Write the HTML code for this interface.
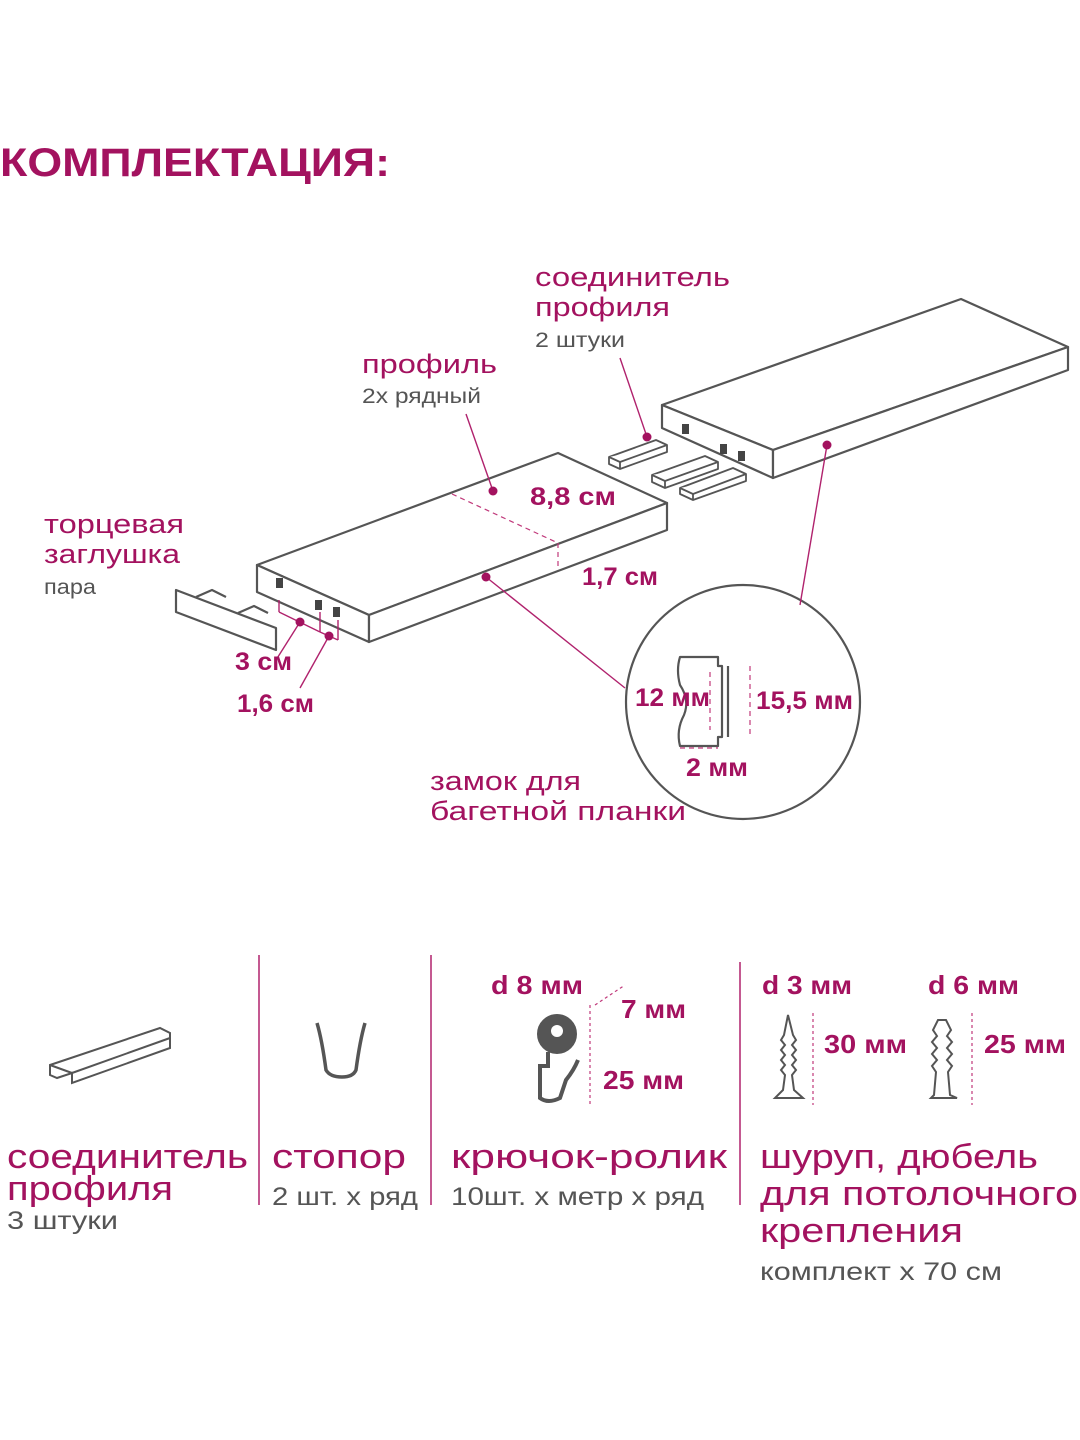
<!DOCTYPE html>
<html><head><meta charset="utf-8"><style>
body{margin:0;background:#fff;width:1080px;height:1440px;overflow:hidden;font-family:"Liberation Sans",sans-serif}
svg{position:absolute;left:0;top:0}
.m{fill:#a3125f;font-family:"Liberation Sans",sans-serif}
.g{fill:#555;font-family:"Liberation Sans",sans-serif}
</style></head><body>
<svg width="1080" height="1440" viewBox="0 0 1080 1440">
<text x="0" y="176" class="m" font-size="40" font-weight="bold" textLength="390" lengthAdjust="spacingAndGlyphs">КОМПЛЕКТАЦИЯ:</text>
<g fill="#fff" stroke="#555" stroke-width="2.2" stroke-linejoin="round">
<polygon points="257,565 558,453 667,503 369,615"/>
<polygon points="257,565 369,615 369,642 257,592"/>
<polygon points="369,615 667,503 667,530 369,642"/>
<polygon points="662,405 961,299 1068,347 773,450"/>
<polygon points="662,405 773,450 773,478 662,428"/>
<polygon points="773,450 1068,347 1068,370 773,478"/>
<polygon points="176,590 276,628 276,650 176,612"/>
<polyline points="196,597 212,590 226,597"/>
<polyline points="238,613 254,606 268,613"/>
<g stroke-width="1.8">
<polygon points="609,457 656,440 667,445 667,452 620,469 609,464"/>
<polyline points="609,457 620,462 667,445"/><line x1="620" y1="462" x2="620" y2="469"/>
<polygon points="652,475 705,456 718,462 718,469 665,488 652,482"/>
<polyline points="652,475 665,481 718,462"/><line x1="665" y1="481" x2="665" y2="488"/>
<polygon points="680,488 733,468 746,474 746,481 693,500 680,494"/>
<polyline points="680,488 693,494 746,474"/><line x1="693" y1="494" x2="693" y2="500"/>
</g>
<circle cx="743" cy="702" r="117"/>
<path d="M680,657 L718,657 L718,666 L722,666 L722,737 L718,737 L718,746 L680,746 Q676,730 684,715 Q690,700 680,685 Q676,670 680,657Z"/>
<line x1="728" y1="666" x2="728" y2="737"/>
</g>
<g fill="#444">
<rect x="276" y="578" width="7" height="10"/><rect x="315" y="600" width="7" height="10"/><rect x="333" y="607" width="7" height="10"/>
<rect x="682" y="424" width="7" height="10"/><rect x="720" y="444" width="7" height="10"/><rect x="738" y="451" width="7" height="10"/>
</g>
<g stroke="#c0387a" stroke-width="1.2" fill="none" stroke-dasharray="5,4">
<line x1="452" y1="494" x2="558" y2="543"/><line x1="558" y1="543" x2="558" y2="568"/>
<line x1="710" y1="672" x2="710" y2="730"/><line x1="750" y1="666" x2="750" y2="737"/>
<line x1="680" y1="748" x2="718" y2="748"/>
</g>
<g stroke="#b0226d" stroke-width="1.4" fill="none">
<line x1="279" y1="600" x2="279" y2="612"/><line x1="279" y1="612" x2="320" y2="632"/><line x1="320" y1="612" x2="320" y2="632"/>
<line x1="320" y1="632" x2="338" y2="640"/><line x1="338" y1="620" x2="338" y2="640"/>
<line x1="300" y1="622" x2="276" y2="660"/><line x1="329" y1="636" x2="300" y2="688"/>
<line x1="466" y1="414" x2="493" y2="491"/>
<line x1="486" y1="577" x2="625" y2="688"/>
<line x1="620" y1="358" x2="647" y2="437"/>
<line x1="827" y1="445" x2="800" y2="605"/>
</g>
<g fill="#a3125f">
<circle cx="493" cy="491" r="4.5"/><circle cx="486" cy="577" r="4.5"/><circle cx="300" cy="622" r="4.5"/><circle cx="329" cy="636" r="4.5"/><circle cx="647" cy="437" r="4.5"/><circle cx="827" cy="445" r="4.5"/>
</g>
<g class="m" font-size="27" lengthAdjust="spacingAndGlyphs">
<text x="535" y="286" textLength="195" lengthAdjust="spacingAndGlyphs">соединитель</text><text x="535" y="316" textLength="135" lengthAdjust="spacingAndGlyphs">профиля</text>
<text x="362" y="373" textLength="135" lengthAdjust="spacingAndGlyphs">профиль</text>
<text x="44" y="533" textLength="140" lengthAdjust="spacingAndGlyphs">торцевая</text><text x="44" y="563" textLength="136" lengthAdjust="spacingAndGlyphs">заглушка</text>
<text x="430" y="790" textLength="151" lengthAdjust="spacingAndGlyphs">замок для</text><text x="430" y="820" textLength="256" lengthAdjust="spacingAndGlyphs">багетной планки</text>
</g>
<g class="g" font-size="21">
<text x="535" y="347" textLength="90" lengthAdjust="spacingAndGlyphs">2 штуки</text><text x="362" y="403" textLength="119" lengthAdjust="spacingAndGlyphs">2х рядный</text><text x="44" y="594" textLength="52" lengthAdjust="spacingAndGlyphs">пара</text>
</g>
<g class="m" font-size="25" font-weight="bold">
<text x="530" y="505" textLength="86" lengthAdjust="spacingAndGlyphs">8,8 см</text><text x="582" y="585" textLength="76" lengthAdjust="spacingAndGlyphs">1,7 см</text>
<text x="235" y="670" textLength="57" lengthAdjust="spacingAndGlyphs">3 см</text><text x="237" y="712" textLength="77" lengthAdjust="spacingAndGlyphs">1,6 см</text>
<text x="635" y="706" textLength="75" lengthAdjust="spacingAndGlyphs">12 мм</text><text x="756" y="709" textLength="97" lengthAdjust="spacingAndGlyphs">15,5 мм</text><text x="686" y="776" textLength="62" lengthAdjust="spacingAndGlyphs">2 мм</text>
</g>
<g stroke="#b0226d" stroke-width="1.5"><line x1="259" y1="955" x2="259" y2="1205"/><line x1="431" y1="955" x2="431" y2="1205"/><line x1="740" y1="962" x2="740" y2="1205"/></g>
<g fill="#fff" stroke="#555" stroke-width="2">
<polygon points="50,1065 160,1028 170,1033 170,1048 72,1083 72,1073 57,1078 50,1075"/>
<line x1="50" y1="1065" x2="72" y2="1073"/><line x1="72" y1="1073" x2="170" y2="1038"/>
<path d="M317,1023 Q322,1040 326,1070 Q330,1077 342,1077 Q353,1077 356,1070 Q360,1040 365,1023" fill="none" stroke-width="3.5"/>
<circle cx="557" cy="1034" r="19" fill="#555"/><circle cx="557" cy="1031" r="6" fill="#fff" stroke="none"/>
<path d="M548,1052 L548,1066 L540,1066 L540,1098 Q548,1104 560,1098 L566,1080 Q574,1070 578,1060" fill="none" stroke-width="4"/>
<path d="M788,1015 L793,1035 L796,1040 L792,1045 L796,1050 L792,1055 L796,1060 L792,1065 L796,1070 L792,1075 L794,1090 L803,1098 L775,1098 L783,1090 L785,1075 L781,1070 L785,1065 L781,1060 L785,1055 L781,1050 L785,1045 L781,1040 L784,1035Z"/>
<path d="M938,1020 L946,1020 L951,1030 L947,1036 L952,1042 L947,1048 L952,1054 L947,1060 L952,1066 L948,1072 L950,1095 L957,1098 L931,1098 L934,1095 L936,1072 L932,1066 L937,1060 L932,1054 L937,1048 L932,1042 L937,1036 L933,1030Z"/>
</g>
<g stroke="#c0387a" stroke-width="1.2" stroke-dasharray="3,3">
<line x1="590" y1="1005" x2="590" y2="1105"/><line x1="595" y1="1005" x2="625" y2="985"/>
<line x1="813" y1="1013" x2="813" y2="1105"/><line x1="972" y1="1013" x2="972" y2="1105"/>
</g>
<g class="m" font-size="26" font-weight="bold">
<text x="491" y="994" textLength="92" lengthAdjust="spacingAndGlyphs">d 8 мм</text><text x="621" y="1018" textLength="65" lengthAdjust="spacingAndGlyphs">7 мм</text><text x="603" y="1089" textLength="81" lengthAdjust="spacingAndGlyphs">25 мм</text>
<text x="762" y="994" textLength="90" lengthAdjust="spacingAndGlyphs">d 3 мм</text><text x="928" y="994" textLength="91" lengthAdjust="spacingAndGlyphs">d 6 мм</text>
<text x="824" y="1053" textLength="83" lengthAdjust="spacingAndGlyphs">30 мм</text><text x="984" y="1053" textLength="82" lengthAdjust="spacingAndGlyphs">25 мм</text>
</g>
<g class="m" font-size="34">
<text x="7" y="1168" textLength="241" lengthAdjust="spacingAndGlyphs">соединитель</text><text x="7" y="1200" textLength="166" lengthAdjust="spacingAndGlyphs">профиля</text>
<text x="272" y="1168" textLength="134" lengthAdjust="spacingAndGlyphs">стопор</text>
<text x="451" y="1168" textLength="276" lengthAdjust="spacingAndGlyphs">крючок-ролик</text>
<text x="760" y="1168" textLength="278" lengthAdjust="spacingAndGlyphs">шуруп, дюбель</text><text x="760" y="1205" textLength="318" lengthAdjust="spacingAndGlyphs">для потолочного</text><text x="760" y="1242" textLength="203" lengthAdjust="spacingAndGlyphs">крепления</text>
</g>
<g class="g" font-size="25">
<text x="7" y="1229" textLength="111" lengthAdjust="spacingAndGlyphs">3 штуки</text><text x="272" y="1205" textLength="146" lengthAdjust="spacingAndGlyphs">2 шт. х ряд</text><text x="451" y="1205" textLength="253" lengthAdjust="spacingAndGlyphs">10шт. х метр х ряд</text><text x="760" y="1280" textLength="242" lengthAdjust="spacingAndGlyphs">комплект х 70 см</text>
</g>
</svg>
</body></html>
